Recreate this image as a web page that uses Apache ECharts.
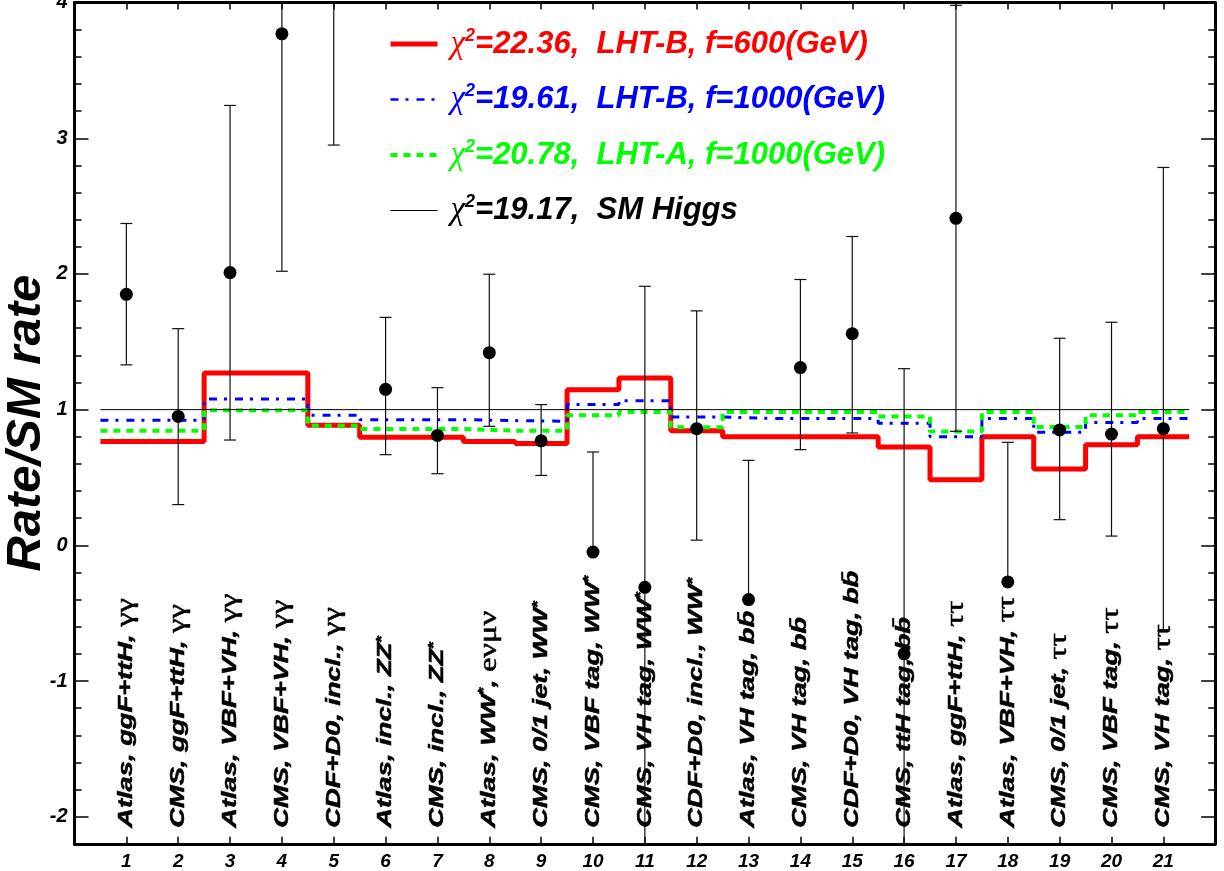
<!DOCTYPE html>
<html>
<head>
<meta charset="utf-8">
<script src="https://cdn.jsdelivr.net/npm/echarts@6/dist/echarts.min.js"></script>
<style>
html,body{margin:0;padding:0;background:#fff;}
#chart{width:1224px;height:871px;}
</style>
</head>
<body>
<div id="chart"></div>
<script>
// ---------------- data ----------------
const categories = [
  'Atlas, ggF+ttH, γγ',
  'CMS, ggF+ttH, γγ',
  'Atlas, VBF+VH, γγ',
  'CMS, VBF+VH, γγ',
  'CDF+D0, incl., γγ',
  'Atlas, incl., ZZ*',
  'CMS, incl., ZZ*',
  'Atlas, WW*, eνμν',
  'CMS, 0/1 jet, WW*',
  'CMS, VBF tag, WW*',
  'CMS, VH tag, WW*',
  'CDF+D0, incl., WW*',
  'Atlas, VH tag, bb\u0304',
  'CMS, VH tag, bb\u0304',
  'CDF+D0, VH tag, bb\u0304',
  'CMS, ttH tag, bb\u0304',
  'Atlas, ggF+ttH, ττ',
  'Atlas, VBF+VH, ττ',
  'CMS, 0/1 jet, ττ',
  'CMS, VBF tag, ττ',
  'CMS, VH tag, ττ'
];
const xTickLabels = ['1','2','3','4','5','6','7','8','9','10','11','12','13','14','15','16','17','18','19','20','21'];
const yTickLabels = ['-2','-1','0','1','2','3','4'];

const lhtB600  = [0.766,0.766,1.27,1.27,0.884,0.796,0.796,0.766,0.75,1.147,1.234,0.845,0.80,0.80,0.80,0.725,0.484,0.80,0.563,0.742,0.80];
const lhtB1000 = [0.921,0.921,1.079,1.079,0.958,0.926,0.926,0.919,0.914,1.037,1.066,0.946,0.934,0.934,0.934,0.90,0.80,0.934,0.833,0.906,0.934];
const lhtA1000 = [0.845,0.845,0.995,0.995,0.882,0.857,0.857,0.845,0.845,0.958,0.983,0.87,0.983,0.983,0.983,0.95,0.838,0.983,0.872,0.958,0.983];
const smHiggs  = [1,1,1,1,1,1,1,1,1,1,1,1,1,1,1,1,1,1,1,1,1];

const measured = [1.85,0.95,2.01,3.77,4.8,1.15,0.81,1.42,0.77,-0.05,-0.31,0.86,-0.40,1.31,1.56,-0.80,2.41,-0.27,0.85,0.82,0.86];
const errLow   = [1.33,0.30,0.776,2.02,2.95,0.668,0.528,0.877,0.515,-0.05,-2.53,0.038,-0.40,0.705,0.828,-2.9,0.84,-0.27,0.189,0.068,-0.63];
const errHigh  = [2.372,1.597,3.242,5.5,6.6,1.68,1.162,1.998,1.037,0.688,1.909,1.728,0.626,1.959,2.276,1.302,3.98,0.759,1.526,1.644,2.785];

const legendChi  = ['22.36','19.61','20.78','19.17'];
const legendDesc = ['LHT-B, f=600(GeV)','LHT-B, f=1000(GeV)','LHT-A, f=1000(GeV)','SM Higgs'];
const seriesColors = ['#ff0000','#0000ff','#00ff00','#000000'];

// --------------- helpers ---------------
const Y_MIN = -2.2, Y_MAX = 4;
const FONT = '"Liberation Sans", Arial, Helvetica, sans-serif';
const GREEK_FONT = '"Liberation Serif", "DejaVu Serif", serif';

function stepData(vals){
  const d = vals.map((v,i)=>[i+0.5, v]);
  d.push([vals.length+0.5, vals[vals.length-1]]);
  return d;
}
function richLabel(s){
  return s.replace(/\*/g,'{s|*}').replace(/(e?[γτνμ]+)$/,'{g|$1}');
}

const legendKeys = ['r','b','g','k'];
const legendRich = {};
legendKeys.forEach((k,i)=>{
  legendRich['c'+k] = {fontFamily:GREEK_FONT, fontStyle:'italic', fontWeight:'normal', fontSize:33, color:seriesColors[i], lineHeight:34, padding:[0,0,0,8]};
  legendRich['s'+k] = {fontFamily:FONT, fontStyle:'italic', fontWeight:'bold', fontSize:18, color:seriesColors[i], lineHeight:20, verticalAlign:'top'};
  legendRich['t'+k] = {fontFamily:FONT, fontStyle:'italic', fontWeight:'bold', fontSize:31, color:seriesColors[i], lineHeight:34};
});

const chart = echarts.init(document.getElementById('chart'), null, {renderer:'canvas'});

const axisLineStyle = {color:'#000', width:3};
const option = {
  animation:false,
  backgroundColor:'#fff',
  grid:{left:74.5, right:8.8, top:2.6, bottom:27.2, containLabel:false, outerBoundsMode:'none'},
  legend:{
    orient:'vertical', left:383, top:22,
    itemWidth:47, itemHeight:14, itemGap:22,
    itemStyle:{opacity:0},
    data:[
      {name:legendDesc[0], lineStyle:{width:5}},
      {name:legendDesc[1], lineStyle:{width:2.5}},
      {name:legendDesc[2], lineStyle:{width:4}},
      {name:legendDesc[3], lineStyle:{width:1}}
    ],
    formatter:function(name){
      const i = legendDesc.indexOf(name);
      const k = legendKeys[i];
      return '{c'+k+'|χ}{s'+k+'|2}{t'+k+'|='+legendChi[i]+',  '+legendDesc[i]+'}';
    },
    textStyle:{rich:legendRich},
    selectedMode:false
  },
  xAxis:[
    {type:'value', min:0, max:22, interval:1, position:'bottom',
     axisLine:{onZero:false, lineStyle:axisLineStyle},
     axisTick:{inside:true, length:7, lineStyle:{color:'#000', width:1.5}},
     axisLabel:{formatter:v=>(v>=1&&v<=21)?xTickLabels[v-1]:'', fontFamily:FONT, fontSize:19, fontWeight:'bold', fontStyle:'italic', color:'#000', margin:8},
     splitLine:{show:false}},
    {type:'value', min:0, max:22, interval:1, position:'top',
     axisLine:{onZero:false, lineStyle:axisLineStyle},
     axisTick:{inside:true, length:7, lineStyle:{color:'#000', width:1.5}},
     axisLabel:{show:false}, splitLine:{show:false}}
  ],
  yAxis:[
    {type:'value', min:Y_MIN, max:Y_MAX, interval:0.2, position:'left',
     axisLine:{show:true, onZero:false, lineStyle:axisLineStyle},
     axisTick:{inside:true, length:7, lineStyle:{color:'#000', width:1.5}},
     axisLabel:{formatter:v=>{const r=Math.round(v); return Math.abs(v-r)<1e-6 && yTickLabels.indexOf(String(r))>=0 ? String(r) : '';},
       fontFamily:FONT, fontSize:20, fontWeight:'bold', fontStyle:'italic', color:'#000', margin:7},
     splitLine:{show:false},
     name:'Rate/SM rate', nameLocation:'middle', nameGap:24, nameRotate:90, nameMoveOverlap:false,
     nameTextStyle:{fontFamily:FONT, fontSize:49, fontWeight:'bold', fontStyle:'italic', color:'#000'}},
    {type:'value', min:Y_MIN, max:Y_MAX, splitNumber:6, position:'left',
     axisLine:{show:false, onZero:false},
     axisTick:{inside:true, length:14, lineStyle:{color:'#000', width:1.5}},
     axisLabel:{show:false}, splitLine:{show:false}},
    {type:'value', min:Y_MIN, max:Y_MAX, interval:0.2, position:'right',
     axisLine:{show:true, onZero:false, lineStyle:axisLineStyle},
     axisTick:{inside:true, length:7, lineStyle:{color:'#000', width:1.5}},
     axisLabel:{show:false}, splitLine:{show:false}},
    {type:'value', min:Y_MIN, max:Y_MAX, splitNumber:6, position:'right',
     axisLine:{show:false, onZero:false},
     axisTick:{inside:true, length:14, lineStyle:{color:'#000', width:1.5}},
     axisLabel:{show:false}, splitLine:{show:false}}
  ],
  series:[
    {name:legendDesc[0], type:'line', step:'end', symbol:'none', data:stepData(lhtB600),
     lineStyle:{color:seriesColors[0], width:5}, itemStyle:{color:seriesColors[0]}, z:2},
    {name:legendDesc[1], type:'line', step:'end', symbol:'none', data:stepData(lhtB1000),
     lineStyle:{color:seriesColors[1], width:3, type:[8,7,3,8]}, itemStyle:{color:seriesColors[1]}, z:3},
    {name:legendDesc[2], type:'line', step:'end', symbol:'none', data:stepData(lhtA1000),
     lineStyle:{color:seriesColors[2], width:4, type:[7,6]}, itemStyle:{color:seriesColors[2]}, z:4},
    {name:legendDesc[3], type:'line', step:'end', symbol:'none', data:stepData(smHiggs),
     lineStyle:{color:'#000', width:1}, itemStyle:{color:'#000'}, z:5},
    {name:'errors', type:'custom', z:6,
     data:measured.map((v,i)=>[i+1, errLow[i], errHigh[i]]),
     renderItem:function(params, api){
       const x = api.value(0), lo = api.value(1), hi = api.value(2);
       const clo = Math.max(lo, Y_MIN), chi = Math.min(hi, Y_MAX);
       const a = api.coord([x, clo]), b = api.coord([x, chi]);
       const st = {stroke:'#111', lineWidth:1.2};
       const ch = [{type:'line', shape:{x1:a[0], y1:a[1], x2:b[0], y2:b[1]}, style:st}];
       if (lo >= Y_MIN) ch.push({type:'line', shape:{x1:a[0]-6, y1:a[1], x2:a[0]+6, y2:a[1]}, style:st});
       if (hi <= Y_MAX) ch.push({type:'line', shape:{x1:b[0]-6, y1:b[1], x2:b[0]+6, y2:b[1]}, style:st});
       return {type:'group', children:ch};
     }},
    {name:'data', type:'scatter', z:7, symbol:'circle', symbolSize:13, clip:true,
     data:measured.map((v,i)=>[i+1, v]), itemStyle:{color:'#000', opacity:1}},
    {name:'labels', type:'custom', z:8,
     data:categories.map((c,i)=>[i+1, Y_MIN]),
     renderItem:function(params, api){
       const p = api.coord([api.value(0), api.value(1)]);
       return {type:'text', x:p[0], y:p[1]-16, rotation:Math.PI/2, scaleX:1.3, scaleY:1,
         style:{text:richLabel(categories[params.dataIndex]), fill:'#000',
           stroke:'#000', lineWidth:0.5,
           fontFamily:FONT, fontSize:21, fontWeight:'bold', fontStyle:'italic',
           align:'left', verticalAlign:'middle',
           rich:{
             g:{fontFamily:GREEK_FONT, fontWeight:'normal', fontStyle:'normal', fontSize:25, fill:'#000', lineHeight:24},
             s:{fontFamily:FONT, fontWeight:'bold', fontStyle:'normal', fontSize:14, fill:'#000', lineHeight:12, verticalAlign:'top'}
           }}};
     }}
  ]
};
chart.setOption(option);
</script>
</body>
</html>
